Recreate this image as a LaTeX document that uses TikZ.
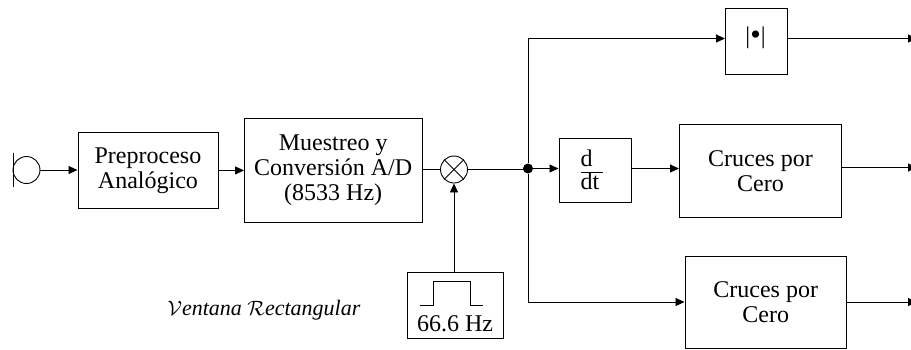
\documentclass[tikz,border=0pt]{standalone}
\usepackage{fontspec}
\setmainfont{Liberation Serif}
\usetikzlibrary{arrows.meta}
\tikzset{
 x=1pt,y=-1pt,
 blk/.style={draw,line width=0.9pt,inner sep=0pt,anchor=north west,align=center,font=\fontsize{24}{25}\selectfont},
 ar/.style={line width=0.9pt,-{Triangle[length=9pt,width=8pt]}},
 ln/.style={line width=0.9pt},
 circ/.style={draw,line width=0.9pt,circle,minimum size=27pt,inner sep=0pt},
 dotn/.style={fill=black,circle,minimum size=10pt,inner sep=0pt},
 lab/.style={inner sep=0pt,align=center,font=\fontsize{24}{25}\selectfont},
}
\begin{document}
\begin{tikzpicture}
\useasboundingbox (0,0) rectangle (911,349);
\node[circ] (mic) at (26.5,170) {};
\coordinate (bt) at (13,153); \coordinate (bb) at (13,187);
\draw[ln] (bt) -- (bb);
\node[blk,minimum width=140pt,minimum height=76.5pt] (pre) at (77.5,131.7) {Preproceso\\Analógico};
\node[blk,minimum width=177.5pt,minimum height=104pt] (mue) at (244,118) {Muestreo y\\Conversión A/D\\(8533 Hz)};
\node[circ] (mul) at (454,169.5) {};
\draw[ln] (mul.north west) -- (mul.south east);
\draw[ln] (mul.north east) -- (mul.south west);
\node[blk,minimum width=96pt,minimum height=66pt] (pul) at (407,271.7) {};
\node[lab,anchor=base] (pt) at (455,331.5) {66.6 Hz};
\coordinate (p0) at (420,305.5); \coordinate (p1) at (433,305.5); \coordinate (p2) at (433,281.7); \coordinate (p3) at (470.7,281.7); \coordinate (p4) at (470.7,305.5); \coordinate (p5) at (482.7,305.5);
\draw[ln] (p0) -- (p1) -- (p2) -- (p3) -- (p4) -- (p5);
\node[dotn] (j) at (528,168.5) {};
\coordinate (jt) at (527.5,38.5); \coordinate (jb) at (527.5,302);
\node[blk,minimum width=61.7pt,minimum height=66pt] (abs) at (725,8) {};
\node[lab,anchor=base] (abst) at (755.5,43) {|\raisebox{-1.8pt}{\fontsize{30}{30}\selectfont •}|};
\node[blk,minimum width=72.5pt,minimum height=63.5pt] (dt) at (558.5,138) {};
\node[lab,anchor=base west] (d) at (580.5,166) {d};
\node[lab,anchor=base west] (dtt) at (580.5,189.3) {dt};
\coordinate (f0) at (580.5,172.7); \coordinate (f1) at (603,172.7);
\draw[line width=0.6pt] (f0) -- (f1);
\node[blk,minimum width=162pt,minimum height=93.5pt] (c1) at (679,123.5) {Cruces por\\Cero};
\node[blk,minimum width=161.5pt,minimum height=92.5pt] (c2) at (684.5,255.5) {Cruces por\\Cero};
\node[inner sep=0pt,font=\fontsize{22}{24}\selectfont\itshape] (ven) at (264,310) {$\mathcal{V}$entana $\mathcal{R}$ectangular};
\coordinate (o1) at (917,38.5); \coordinate (o2) at (917,167.5); \coordinate (o3) at (917,302);
\draw[ar] (mic) -- (pre.west |- mic);
\draw[ar] (pre.east |- mue) -- (mue);
\draw[ln] (mue.east |- mul) -- (mul);
\draw[ar] (pul.north -| mul) -- (mul);
\draw[ln] (mul) -- (mul -| j);
\draw[ar] (j) -- (dt.west |- j);
\draw[ln] (j) -- (j |- jt);
\draw[ln] (j) -- (j |- jb);
\draw[ar] (j |- jt) -- (abs.west |- jt);
\draw[ar] (j |- jb) -- (c2.west |- jb);
\draw[ar] (dt.east |- j) -- (c1.west |- j);
\draw[ar] (abs.east |- o1) -- (o1);
\draw[ar] (c1.east |- o2) -- (o2);
\draw[ar] (c2.east |- o3) -- (o3);
\end{tikzpicture}
\end{document}
